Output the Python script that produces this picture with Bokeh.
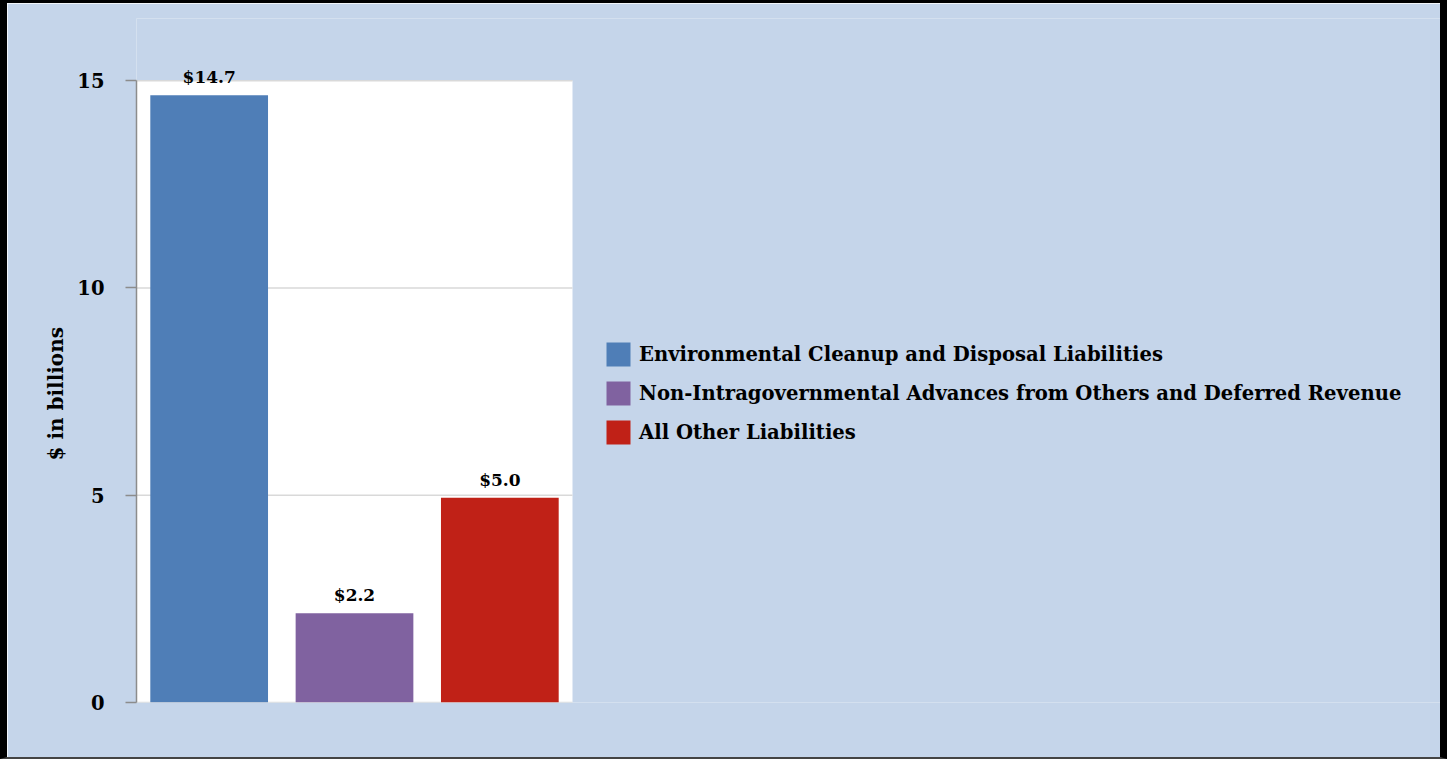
from bokeh.plotting import figure
from bokeh.models import (ColumnDataSource, LabelSet, Legend, LegendItem, FixedTicker,
                          BoxAnnotation, Title, Range1d)
from bokeh.core.properties import value
from bokeh.embed import file_html
from bokeh.resources import INLINE

categories = ["Environmental Cleanup and Disposal Liabilities",
              "Non-Intragovernmental Advances from Others and Deferred Revenue",
              "All Other Liabilities"]
values = [14.65, 2.15, 4.94]
labels = ["$14.7", "$2.2", "$5.0"]
colors = ["#4F7EB7", "#8062A0", "#C02117"]
y_ticks = [0, 5, 10, 15]
y_label = "$ in billions"

FONT = "DejaVu Serif"
BG = "#C5D5EA"
GRID = "#D9D9D9"
y_max = max(y_ticks)
n = len(categories)
idx = list(range(n))

# layout (pixels)
BL, BR, BT, BB = 7, 7, 3, 2          # page border widths
FIG_W, FIG_H = 1447, 759
LEFT, TOP, BOTTOM = 129, 15, 60
BAR_AREA = 436            # width of the white bar area
frame_w = FIG_W - LEFT
x_end = -0.5 + n * frame_w / BAR_AREA

src = ColumnDataSource(dict(x=idx, val=values, lab=labels, col=colors))

p = figure(x_range=Range1d(-0.5, x_end), y_range=(0, y_max * 1.1),
           width=FIG_W, height=FIG_H,
           output_backend="svg", toolbar_location=None,
           min_border_left=LEFT, min_border_right=0, min_border_top=TOP,
           min_border_bottom=BOTTOM)
p.border_fill_color = BG
p.background_fill_color = BG
p.outline_line_color = None
p.styles = {"border-left": f"{BL}px solid black", "border-right": f"{BR}px solid black",
            "border-top": f"{BT}px solid black", "border-bottom": f"{BB}px solid #444444"}

# white plotting area
p.add_layout(BoxAnnotation(left=-0.5, right=n - 0.5, bottom=0, top=y_max,
                           fill_color="white", fill_alpha=1,
                           line_color=None, level="underlay"))
# horizontal grid lines over the bar area
p.segment(x0=[-0.5] * len(y_ticks), x1=[n - 0.5] * len(y_ticks), y0=y_ticks, y1=y_ticks,
          line_color=GRID, line_width=1.5)

r = p.vbar(x="x", top="val", width=0.81, fill_color="col", line_color=None, source=src)

p.add_layout(LabelSet(x="x", y="val", text="lab", source=src, y_offset=12,
                      text_align="center", text_baseline="alphabetic",
                      text_font=value(FONT), text_font_style="bold",
                      text_font_size="17px", text_color="black"))

p.xaxis.visible = False
p.xgrid.visible = False
p.ygrid.visible = False
p.yaxis.ticker = FixedTicker(ticks=y_ticks)
p.yaxis.bounds = (0, y_max)
p.yaxis.minor_tick_line_color = None
p.yaxis.major_tick_out = 11
p.yaxis.major_tick_in = 0
p.yaxis.major_tick_line_color = "#8C8C8C"
p.yaxis.major_tick_line_width = 1.5
p.yaxis.axis_line_color = "#8C8C8C"
p.yaxis.axis_line_width = 1.5
p.yaxis.major_label_standoff = 21
p.yaxis.major_label_text_font = FONT
p.yaxis.major_label_text_font_style = "bold"
p.yaxis.major_label_text_font_size = "19.5px"
p.yaxis.major_label_text_color = "black"

p.add_layout(Title(text=y_label, align="left", offset=242, standoff=14,
                   text_font=FONT, text_font_style="bold", text_font_size="20px",
                   text_color="black"), "left")

items = [LegendItem(label=c, renderers=[r], index=i) for i, c in enumerate(categories)]
legend = Legend(items=items, location=(467, 255), orientation="vertical",
                glyph_width=30, glyph_height=30, label_standoff=6, spacing=9,
                padding=0, margin=0, background_fill_alpha=0, border_line_color=None,
                label_text_font=FONT, label_text_font_style="bold",
                label_text_font_size="19.6px", label_text_color="black",
                label_height=30)
p.add_layout(legend, "center")

open("out.html", "w").write(file_html(p, INLINE))
